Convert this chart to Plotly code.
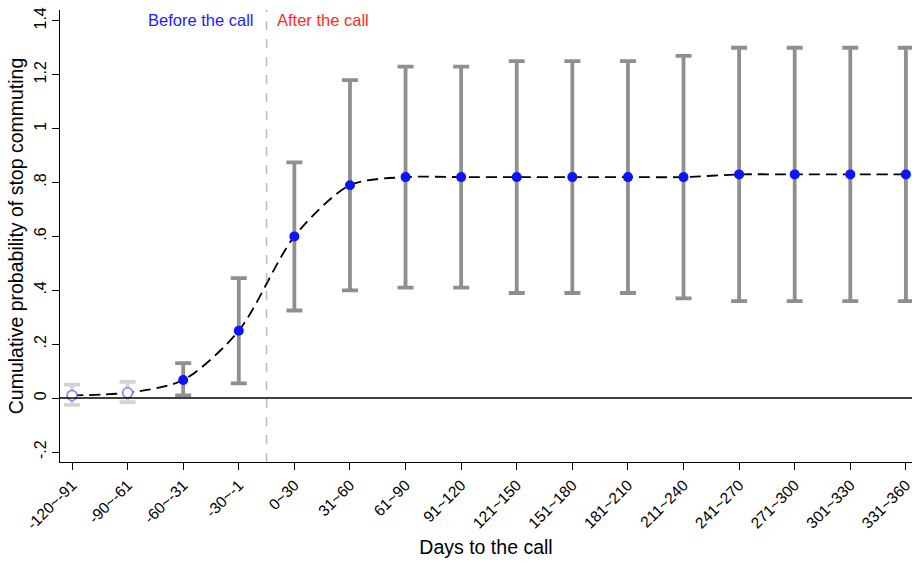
import plotly.graph_objects as go

categories = ["-120~-91", "-90~-61", "-60~-31", "-30~-1", "0~30", "31~60", "61~90",
              "91~120", "121~150", "151~180", "181~210", "211~240", "241~270",
              "271~300", "301~330", "331~360"]
estimate = [0.01, 0.02, 0.067, 0.25, 0.60, 0.79, 0.82, 0.82, 0.82, 0.82, 0.82, 0.82,
            0.83, 0.83, 0.83, 0.83]
ci_low = [-0.025, -0.015, 0.01, 0.055, 0.325, 0.40, 0.41, 0.41, 0.39, 0.39, 0.39, 0.37,
          0.36, 0.36, 0.36, 0.36]
ci_high = [0.05, 0.06, 0.13, 0.445, 0.875, 1.18, 1.23, 1.23, 1.25, 1.25, 1.25, 1.27,
           1.30, 1.30, 1.30, 1.30]
y_ticks = [-0.2, 0, 0.2, 0.4, 0.6, 0.8, 1.0, 1.2, 1.4]
y_tick_text = ["-.2", "0", ".2", ".4", ".6", ".8", "1", "1.2", "1.4"]

x = list(range(len(categories)))
n_ref = 2  # reference periods (light)

fig = go.Figure()

for idx, color in [(list(range(n_ref)), "#d4d4d4"), (list(range(n_ref, len(x))), "#8f8f8f")]:
    fig.add_trace(go.Scatter(
        x=[x[i] for i in idx],
        y=[estimate[i] for i in idx],
        mode="markers",
        marker=dict(size=1, color="rgba(0,0,0,0)"),
        error_y=dict(type="data", symmetric=False,
                     array=[ci_high[i] - estimate[i] for i in idx],
                     arrayminus=[estimate[i] - ci_low[i] for i in idx],
                     color=color, thickness=3.8, width=8),
        showlegend=False, hoverinfo="skip", cliponaxis=False))

fig.add_trace(go.Scatter(
    x=x, y=estimate, mode="lines",
    line=dict(color="black", width=1.8, dash="11px,6px", shape="spline", smoothing=0.8),
    showlegend=False))

fig.add_trace(go.Scatter(
    x=x[:n_ref], y=estimate[:n_ref], mode="markers",
    marker=dict(size=10, color="white", line=dict(color="#8080ff", width=1.6)),
    showlegend=False))
fig.add_trace(go.Scatter(
    x=x[n_ref:], y=estimate[n_ref:], mode="markers",
    marker=dict(size=10, color="#0a14ff", line=dict(width=0)),
    showlegend=False, cliponaxis=False))

fig.add_shape(type="line", xref="paper", yref="y", x0=0, x1=1, y0=0, y1=0,
              line=dict(color="black", width=1.5))
fig.add_shape(type="line", xref="x", yref="paper", x0=3.5, x1=3.5, y0=0, y1=1,
              line=dict(color="#bbbbbb", width=1.5, dash="dash"))

fig.add_annotation(x=3.5, y=1.4, xref="x", yref="y", text="Before the call",
                   showarrow=False, xanchor="right", xshift=-12, yshift=1,
                   font=dict(color="#1a1aff", size=16.5))
fig.add_annotation(x=3.5, y=1.4, xref="x", yref="y", text="After the call",
                   showarrow=False, xanchor="left", xshift=8, yshift=1,
                   font=dict(color="#ff2a1a", size=16.5))

fig.update_layout(
    width=912, height=563,
    margin=dict(l=60, r=0, t=10, b=101),
    plot_bgcolor="white", paper_bgcolor="white",
    font=dict(family="Liberation Sans, Arial, sans-serif", color="black"),
    xaxis=dict(
        tickmode="array", tickvals=x, ticktext=categories, tickangle=-45,
        range=[-0.216, 15.11], showgrid=False, zeroline=False,
        showline=True, linecolor="black", linewidth=1.2,
        ticks="outside", ticklen=7, tickcolor="black",
        tickfont=dict(size=15.5), ticklabeloverflow="allow",
        title=dict(text="Days to the call", font=dict(size=19.5), standoff=8),
        automargin=False,
    ),
    yaxis=dict(
        tickmode="array", tickvals=y_ticks, ticktext=y_tick_text, tickangle=-90,
        range=[-0.237, 1.44], showgrid=False, zeroline=False,
        showline=True, linecolor="black", linewidth=1.2,
        ticks="outside", ticklen=7, tickcolor="black",
        tickfont=dict(size=16), ticklabeloverflow="allow",
        title=dict(text="Cumulative probability of stop commuting", font=dict(size=19.5), standoff=2),
        automargin=False,
    ),
)

fig.write_html("out.html", config={"displayModeBar": False},
               post_script="document.body.style.margin='0px';")
